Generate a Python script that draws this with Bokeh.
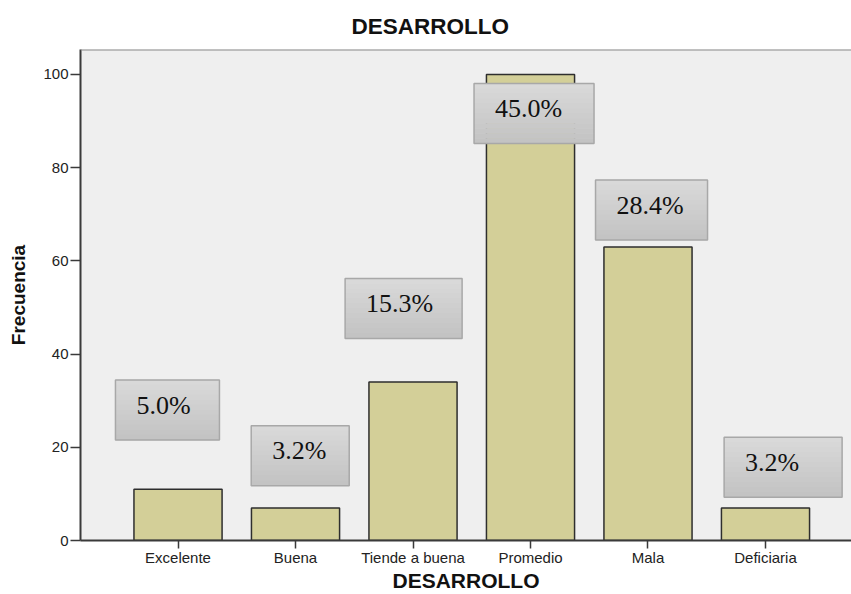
from bokeh.plotting import figure
from bokeh.models import Range1d, FixedTicker, Span, Title, ColumnDataSource
from bokeh.embed import file_html
from bokeh.resources import INLINE
from bokeh.core.properties import value

# ---- data ----
categories = ["Excelente", "Buena", "Tiende a buena", "Promedio", "Mala", "Deficiaria"]
frequencies = [11, 7, 34, 100, 63, 7]
percent_labels = ["5.0%", "3.2%", "15.3%", "45.0%", "28.4%", "3.2%"]
y_ticks = [0, 20, 40, 60, 80, 100]

# ---- label box placement: offsets from each bar (data units), widths in px ----
label_dx = [-0.09, 0.04, -0.08, 0.03, 0.03, 0.15]
label_dy = [17.0, 11.2, 15.8, -8.4, 7.9, 8.7]
label_w = [104, 98, 117, 120, 112, 118]
LABEL_H = 60
TEXT_PAD = 21

W, H = 851, 594
BORDER_L, BORDER_T, BORDER_B = 80, 49, 53
Y_END = 105.35
X_START, X_END = -0.83, 5.732
FONT = "Liberation Sans"

xs = list(range(len(categories)))
bars = ColumnDataSource(dict(x=xs, top=frequencies, cat=categories))
box_x = [x + d for x, d in zip(xs, label_dx)]
box_y = [f + d for f, d in zip(frequencies, label_dy)]
boxes = ColumnDataSource(dict(
    bx=box_x, by=box_y, bw=label_w,
    tx=[-w / 2 + TEXT_PAD for w in label_w],
    pct=percent_labels,
))

p = figure(width=W, height=H,
           x_range=Range1d(X_START, X_END), y_range=Range1d(0, Y_END),
           output_backend="svg", toolbar_location=None,
           min_border_left=BORDER_L, min_border_right=0,
           min_border_top=BORDER_T, min_border_bottom=BORDER_B)

p.background_fill_color = "#efefef"
p.border_fill_color = "white"
p.outline_line_color = None
p.grid.visible = False

p.vbar(x="x", top="top", bottom=0, width=0.75, source=bars,
       fill_color="#d3cf98", line_color="#2e2e2e", line_width=1.5)

# label boxes with a light-to-dark vertical gradient (drawn as thin strips)
px_per_unit = (H - BORDER_T - BORDER_B) / Y_END
N_STRIPS = 12
strip_h = LABEL_H / N_STRIPS
top_c, bot_c = (0xDA, 0xDA, 0xDA), (0xC2, 0xC2, 0xC2)
sx, sy, sw, sc = [], [], [], []
for i in range(N_STRIPS):
    t = (i + 0.5) / N_STRIPS
    c = tuple(round(a + (b - a) * t) for a, b in zip(top_c, bot_c))
    col = "#%02x%02x%02x" % c
    off = (LABEL_H / 2 - (i + 0.5) * strip_h) / px_per_unit
    for bx, by, bw in zip(box_x, box_y, label_w):
        sx.append(bx); sy.append(by + off); sw.append(bw); sc.append(col)
p.rect(x=sx, y=sy, width=sw, height=strip_h + 0.6,
       width_units="screen", height_units="screen",
       fill_color=sc, line_color=None)
p.rect(x="bx", y="by", width="bw", height=LABEL_H,
       width_units="screen", height_units="screen", source=boxes,
       fill_color=None, line_color="#a8a8a8", line_width=1.5)
p.text(x="bx", y="by", text="pct", x_offset="tx", y_offset=-5, source=boxes,
       text_font=value("Liberation Serif"), text_font_size="26px",
       text_align="left", text_baseline="middle", text_color="#111111")

# top border of the plot area
p.add_layout(Span(location=Y_END, dimension="width", line_color="#8a8a8a", line_width=2))

# axes
p.xaxis.ticker = FixedTicker(ticks=xs)
p.xaxis.major_label_overrides = {i: c for i, c in enumerate(categories)}
p.yaxis.ticker = FixedTicker(ticks=y_ticks)
for ax in (p.xaxis, p.yaxis):
    ax.axis_line_color = "#3a3a3a"
    ax.axis_line_width = 2
    ax.major_tick_line_color = "#3a3a3a"
    ax.major_tick_line_width = 1.5
    ax.major_tick_in = 0
    ax.minor_tick_line_color = None
    ax.major_label_text_font = FONT
    ax.major_label_text_font_size = "15px"
    ax.major_label_text_color = "#222222"
    ax.axis_label_text_font = FONT
    ax.axis_label_text_font_style = "bold"
    ax.axis_label_text_color = "#111111"

p.xaxis.major_tick_out = 8
p.xaxis.major_label_standoff = 0
p.xaxis.axis_label = "DESARROLLO"
p.xaxis.axis_label_text_font_size = "21px"
p.xaxis.axis_label_standoff = 0

p.yaxis.major_tick_out = 10
p.yaxis.major_label_standoff = 2
p.yaxis.axis_label = "Frecuencia"
p.yaxis.axis_label_text_font_size = "19px"
p.yaxis.axis_label_standoff = 11

# chart title
p.add_layout(Title(text="DESARROLLO", align="left", offset=271, standoff=22,
                   text_font=FONT, text_font_style="bold", text_font_size="22.5px",
                   text_color="#111111"), "above")

open("out.html", "w").write(file_html(p, INLINE))
